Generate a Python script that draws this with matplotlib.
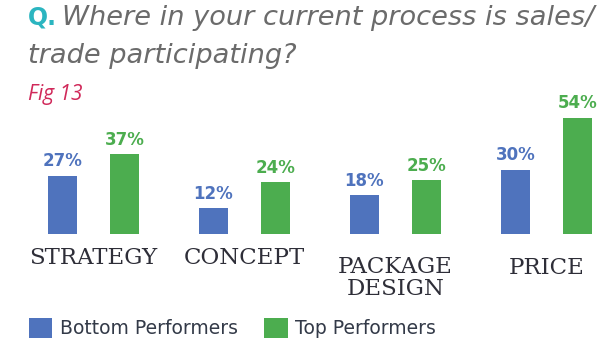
import matplotlib
matplotlib.use("Agg")
import matplotlib.pyplot as plt
import numpy as np

# Survey results (% participating)
stages = ["STRATEGY", "CONCEPT", "PACKAGE\nDESIGN", "PRICE"]
bottom_performers = [27, 12, 18, 30]
top_performers = [37, 24, 25, 54]

BLUE = "#4f73bd"
GREEN = "#4cad4f"
W, H = 610, 342

fig = plt.figure(figsize=(W / 100, H / 100), dpi=100)
fig.patch.set_facecolor("white")


def fy(px):
    # pixel row from top -> figure fraction
    return 1 - px / H


def fx(px):
    return px / W


# axes spans the full width; bars sit on row 234
ax = fig.add_axes([0, fy(234), 1, 129 / H])
ax.set_xlim(-0.619, 3.421)
ax.set_ylim(0, 60)
ax.axis("off")

x = np.arange(len(stages))
off, bw = 0.205, 0.19
b1 = ax.bar(x - off, bottom_performers, bw, color=BLUE, label="Bottom Performers")
b2 = ax.bar(x + off, top_performers, bw, color=GREEN, label="Top Performers")

for bars, vals, col in [(b1, bottom_performers, BLUE), (b2, top_performers, GREEN)]:
    for rect, v in zip(bars, vals):
        ax.annotate(f"{v}%", (rect.get_x() + rect.get_width() / 2, v),
                    xytext=(0, 4), textcoords="offset points",
                    ha="center", va="bottom", fontsize=12,
                    fontweight="bold", family="DejaVu Sans", color=col)

# category names under each pair, the last two sit a little lower
drop = [0, 0, 20, 10]
for i, name in enumerate(stages):
    ax.annotate(name, (x[i], 0), xytext=(0, -(24 + drop[i]) * 0.72),
                textcoords="offset points", ha="center", va="center",
                fontsize=16.5, family="DejaVu Serif", color="#2e2e38",
                linespacing=1.0)

# question header
fig.text(fx(28), fy(25), "Q.", fontsize=17, fontweight="bold",
         family="DejaVu Sans", color="#2bb5c0", va="baseline")
fig.text(fx(62), fy(25), "Where in your current process is sales/",
         fontsize=19.6, style="oblique", family="DejaVu Sans",
         color="#6b6b6b", va="baseline")
fig.text(fx(28), fy(63), "trade participating?",
         fontsize=19.6, style="oblique", family="DejaVu Sans",
         color="#6b6b6b", va="baseline")
fig.text(fx(28), fy(100), "Fig 13", fontsize=15, style="italic",
         family="Open Sans", color="#d0295a", va="baseline")

fig.legend(handles=[b1, b2], loc="center left",
           bbox_to_anchor=(fx(29), fy(328)), ncol=2, frameon=False,
           prop={"family": "DejaVu Sans", "size": 13.5}, labelcolor="#333a48",
           handlelength=1.25, handleheight=1.25, handletextpad=0.4,
           columnspacing=1.4, borderaxespad=0, borderpad=0)

fig.savefig("out.png", dpi=100)
